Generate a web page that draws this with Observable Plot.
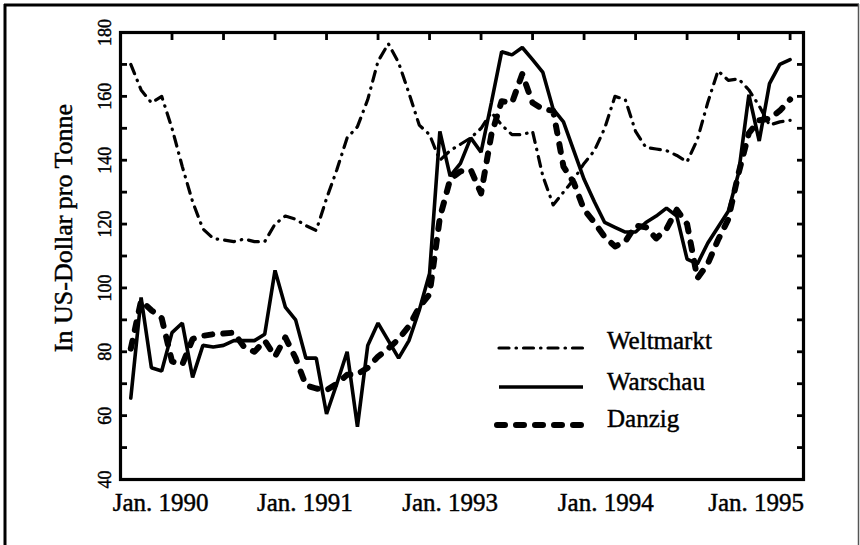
<!DOCTYPE html>
<html><head><meta charset="utf-8">
<script src="https://cdn.jsdelivr.net/npm/d3@7"></script>
<script src="https://cdn.jsdelivr.net/npm/@observablehq/plot@0.6"></script>
<style>body{margin:0;background:#fff} #chart{position:relative;width:860px;height:545px}
#chart text{stroke:black;stroke-width:0.45px;paint-order:stroke}</style>
</head><body><div id="chart"></div>
<script>
// Monthly observations (index along the x axis)
const weltmarkt = [170,162,158,160,150,138,127,118.5,115.5,115,
  114.5,115.3,114.5,114.5,120,122.5,121.5,119.5,118,128,
  137,147,150.5,159,171,176.5,170.5,161,151,148,
  140,143,145,147,150,155,151,148,148,149,
  135,126,130,134,139,143,150,160,159,149,
  144,143.5,143,141.5,139.5,146.5,158,168,165,165.5,
  162,157,151,152,152.5];
const warschau = [65.5,97,75,74,86,89,72,82,81.5,82,
  83.5,83.5,83.5,85.5,105.5,94,90,78,78,60.5,
  70,80,56.5,82,89,83.5,78,83.5,93,104.5,
  149,135,139,147,142.5,158,174,173,175.3,171.5,
  167.5,156,152,143,134,127,120.5,119,117.5,117.5,
  120.5,122.5,125,122.5,109,107.5,114,119,124,136,
  160.5,146,164,170,171.5];
const danzig = [81,96,93,90.5,77,76,84,85,85.5,85.7,
  86,81.5,80,83.5,78.5,84.5,78,69.5,68.5,68,
  70,72.8,73,75,78.5,81,84,88,94,98,
  122,134,136.5,137,129.6,148,158.5,158,167,158,
  156,155.5,138,133,124.5,120.5,116,113,114.5,119.5,
  119,115.5,118.5,124.5,120,103,107.5,115,121.5,136,
  148.5,152.5,153,155.5,159];
const xLabels = ["Jan. 1990","Jan. 1991","Jan. 1993","Jan. 1994","Jan. 1995"];
const xLabelPos = [2.9, 16.9, 31, 46.1, 60.7];
const yLabelValues = [40,60,80,100,120,140,160,180];
const yTickValues = d3.range(40,181,10);
const xTickValues = d3.range(-1,65,5);
const seriesNames = ["Weltmarkt","Warschau","Danzig"];
const yTitle = "In US-Dollar pro Tonne";

const rows = vals => vals.map((v,i)=>({i, v}));
const font = '"Liberation Serif","Times New Roman",serif';
const styles = {
  Weltmarkt:{strokeWidth:3.2, strokeDasharray:"10,7,0.5,7", strokeLinecap:"round"},
  Warschau:{strokeWidth:3.6, strokeLinejoin:"miter"},
  Danzig:{strokeWidth:6, strokeDasharray:"8,11", strokeLinecap:"round", strokeLinejoin:"round"}
};

const chart = Plot.plot({
  width:860, height:545, marginTop:32, marginBottom:66, marginLeft:120, marginRight:57,
  style:{fontFamily:font, background:"white", color:"black"},
  x:{domain:[-1,65.3]}, y:{domain:[40,180]},
  marks:[
    Plot.line(rows(weltmarkt), {x:"i", y:"v", stroke:"black", ...styles.Weltmarkt}),
    Plot.line(rows(danzig), {x:"i", y:"v", stroke:"black", ...styles.Danzig}),
    Plot.line(rows(warschau), {x:"i", y:"v", stroke:"black", ...styles.Warschau}),
    Plot.axisX({anchor:"top", ticks:xTickValues, tickSize:-7, tickFormat:()=>"", strokeWidth:2.8, label:null}),
    Plot.axisY({anchor:"left", ticks:yTickValues, tickSize:-7, tickFormat:()=>"", strokeWidth:2.8, label:null}),
    Plot.axisY({anchor:"right", ticks:yTickValues, tickSize:-7, tickFormat:()=>"", strokeWidth:2.8, label:null}),
    Plot.text(yLabelValues, {y:d=>d, text:d=>String(d), frameAnchor:"left", dx:-15.5, rotate:-90, textAnchor:"middle", lineAnchor:"middle", fontSize:18, fill:"black"}),
    Plot.text(xLabelPos.map((p,k)=>({p, t:xLabels[k]})), {x:"p", text:"t", frameAnchor:"bottom", dy:23, fontSize:25, textAnchor:"middle", lineAnchor:"middle", fill:"black"}),
    Plot.text([yTitle], {text:d=>d, frameAnchor:"left", dx:-57, dy:-28, rotate:-90, fontSize:26, textAnchor:"middle", lineAnchor:"middle", fill:"black"}),
    Plot.frame({stroke:"black", strokeWidth:3.2})
  ]
});
document.getElementById("chart").appendChild(chart);

// legend and outer border
const svg = d3.select(chart);
const leg = svg.append("g").attr("font-family", font).attr("font-size", 25).attr("text-anchor", "start");
const legY = [348, 387, 425];
const legText = [349, 390, 427];
seriesNames.forEach((name, k) => {
  const s = styles[name];
  const ln = leg.append("line")
    .attr("x1", name === "Danzig" ? 497 : 499).attr("x2", name === "Danzig" ? 587 : 583)
    .attr("y1", legY[k]).attr("y2", legY[k])
    .attr("stroke", "black").attr("stroke-width", s.strokeWidth);
  if (s.strokeDasharray) ln.attr("stroke-dasharray", s.strokeDasharray);
  if (s.strokeLinecap) ln.attr("stroke-linecap", s.strokeLinecap);
  leg.append("text").attr("x", 607).attr("y", legText[k]).attr("fill", "black").attr("text-anchor", "start").text(name);
});
const border = svg.append("g").attr("stroke", "black");
border.append("line").attr("x1", 4).attr("x2", 859).attr("y1", 5).attr("y2", 5).attr("stroke-width", 3);
border.append("line").attr("x1", 5).attr("x2", 5).attr("y1", 4).attr("y2", 545).attr("stroke-width", 3);
border.append("line").attr("x1", 858.5).attr("x2", 858.5).attr("y1", 4).attr("y2", 545).attr("stroke-width", 1.5).attr("stroke", "#555");
</script>
</body></html>
